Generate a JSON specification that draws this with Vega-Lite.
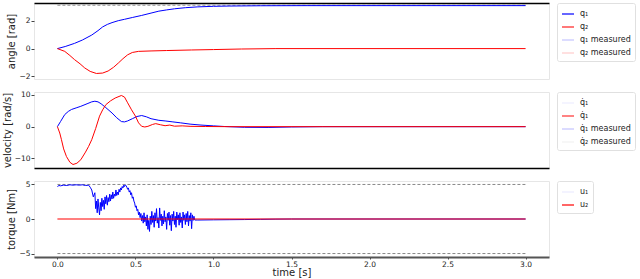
{
  "$schema": "https://vega.github.io/schema/vega-lite/v6.json",
  "padding": {"left": 1, "top": 2, "right": 1, "bottom": 0},
  "spacing": 13,
  "bounds": "flush",
  "datasets": {
    "d": [
      {"panel":"a","series":"q1","time":0,"value":0},{"panel":"a","series":"q1","time":0.05,"value":0.15},{"panel":"a","series":"q1","time":0.11,"value":0.38},{"panel":"a","series":"q1","time":0.16,"value":0.62},{"panel":"a","series":"q1","time":0.22,"value":0.98},{"panel":"a","series":"q1","time":0.26,"value":1.3},{"panel":"a","series":"q1","time":0.29,"value":1.57},{"panel":"a","series":"q1","time":0.32,"value":1.75},{"panel":"a","series":"q1","time":0.35,"value":1.88},{"panel":"a","series":"q1","time":0.39,"value":2.02},{"panel":"a","series":"q1","time":0.43,"value":2.12},{"panel":"a","series":"q1","time":0.48,"value":2.25},{"panel":"a","series":"q1","time":0.54,"value":2.4},{"panel":"a","series":"q1","time":0.6,"value":2.57},{"panel":"a","series":"q1","time":0.65,"value":2.71},{"panel":"a","series":"q1","time":0.7,"value":2.8},{"panel":"a","series":"q1","time":0.75,"value":2.88},{"panel":"a","series":"q1","time":0.82,"value":2.96},{"panel":"a","series":"q1","time":0.9,"value":3.02},{"panel":"a","series":"q1","time":1.0,"value":3.06},{"panel":"a","series":"q1","time":1.1,"value":3.08},{"panel":"a","series":"q1","time":1.3,"value":3.1},{"panel":"a","series":"q1","time":1.6,"value":3.11},{"panel":"a","series":"q1","time":3.0,"value":3.11},
      {"panel":"a","series":"q2","time":0,"value":0},{"panel":"a","series":"q2","time":0.047,"value":-0.2},{"panel":"a","series":"q2","time":0.08,"value":-0.5},{"panel":"a","series":"q2","time":0.11,"value":-0.8},{"panel":"a","series":"q2","time":0.145,"value":-1.1},{"panel":"a","series":"q2","time":0.175,"value":-1.4},{"panel":"a","series":"q2","time":0.21,"value":-1.65},{"panel":"a","series":"q2","time":0.25,"value":-1.8},{"panel":"a","series":"q2","time":0.29,"value":-1.77},{"panel":"a","series":"q2","time":0.325,"value":-1.62},{"panel":"a","series":"q2","time":0.36,"value":-1.35},{"panel":"a","series":"q2","time":0.39,"value":-1.05},{"panel":"a","series":"q2","time":0.42,"value":-0.73},{"panel":"a","series":"q2","time":0.45,"value":-0.45},{"panel":"a","series":"q2","time":0.48,"value":-0.28},{"panel":"a","series":"q2","time":0.52,"value":-0.2},{"panel":"a","series":"q2","time":0.6,"value":-0.17},{"panel":"a","series":"q2","time":0.7,"value":-0.14},{"panel":"a","series":"q2","time":0.86,"value":-0.1},{"panel":"a","series":"q2","time":1.0,"value":-0.07},{"panel":"a","series":"q2","time":1.18,"value":-0.03},{"panel":"a","series":"q2","time":1.4,"value":0},{"panel":"a","series":"q2","time":3.0,"value":0},
      {"panel":"a","series":"lim","time":0,"value":3.1416},{"panel":"a","series":"lim","time":3.0,"value":3.1416},
      {"panel":"v","series":"q1","time":0,"value":0},{"panel":"v","series":"q1","time":0.02,"value":1.6},{"panel":"v","series":"q1","time":0.047,"value":3.8},{"panel":"v","series":"q1","time":0.07,"value":4.8},{"panel":"v","series":"q1","time":0.09,"value":5.4},{"panel":"v","series":"q1","time":0.12,"value":5.9},{"panel":"v","series":"q1","time":0.15,"value":6.4},{"panel":"v","series":"q1","time":0.19,"value":7.2},{"panel":"v","series":"q1","time":0.22,"value":7.8},{"panel":"v","series":"q1","time":0.24,"value":8.0},{"panel":"v","series":"q1","time":0.26,"value":7.8},{"panel":"v","series":"q1","time":0.28,"value":7.2},{"panel":"v","series":"q1","time":0.31,"value":6.0},{"panel":"v","series":"q1","time":0.35,"value":4.3},{"panel":"v","series":"q1","time":0.38,"value":2.8},{"panel":"v","series":"q1","time":0.41,"value":1.6},{"panel":"v","series":"q1","time":0.43,"value":1.5},{"panel":"v","series":"q1","time":0.45,"value":1.8},{"panel":"v","series":"q1","time":0.48,"value":2.5},{"panel":"v","series":"q1","time":0.51,"value":3.2},{"panel":"v","series":"q1","time":0.54,"value":3.5},{"panel":"v","series":"q1","time":0.57,"value":3.1},{"panel":"v","series":"q1","time":0.6,"value":2.5},{"panel":"v","series":"q1","time":0.65,"value":2.0},{"panel":"v","series":"q1","time":0.69,"value":1.8},{"panel":"v","series":"q1","time":0.74,"value":1.5},{"panel":"v","series":"q1","time":0.79,"value":1.2},{"panel":"v","series":"q1","time":0.85,"value":0.8},{"panel":"v","series":"q1","time":0.92,"value":0.5},{"panel":"v","series":"q1","time":1.0,"value":0.25},{"panel":"v","series":"q1","time":1.07,"value":0.05},{"panel":"v","series":"q1","time":1.2,"value":-0.2},{"panel":"v","series":"q1","time":1.35,"value":-0.25},{"panel":"v","series":"q1","time":1.5,"value":-0.1},{"panel":"v","series":"q1","time":1.7,"value":0},{"panel":"v","series":"q1","time":3.0,"value":0},
      {"panel":"v","series":"q2","time":0,"value":0},{"panel":"v","series":"q2","time":0.015,"value":-2.0},{"panel":"v","series":"q2","time":0.026,"value":-4.1},{"panel":"v","series":"q2","time":0.04,"value":-7.0},{"panel":"v","series":"q2","time":0.058,"value":-9.4},{"panel":"v","series":"q2","time":0.08,"value":-11.2},{"panel":"v","series":"q2","time":0.1,"value":-11.9},{"panel":"v","series":"q2","time":0.125,"value":-11.5},{"panel":"v","series":"q2","time":0.15,"value":-10.4},{"panel":"v","series":"q2","time":0.18,"value":-8.0},{"panel":"v","series":"q2","time":0.2,"value":-6.2},{"panel":"v","series":"q2","time":0.22,"value":-4.1},{"panel":"v","series":"q2","time":0.245,"value":-0.6},{"panel":"v","series":"q2","time":0.27,"value":3.3},{"panel":"v","series":"q2","time":0.29,"value":5.3},{"panel":"v","series":"q2","time":0.31,"value":6.9},{"panel":"v","series":"q2","time":0.34,"value":8.1},{"panel":"v","series":"q2","time":0.37,"value":9.0},{"panel":"v","series":"q2","time":0.41,"value":9.8},{"panel":"v","series":"q2","time":0.43,"value":9.3},{"panel":"v","series":"q2","time":0.45,"value":7.5},{"panel":"v","series":"q2","time":0.475,"value":5.3},{"panel":"v","series":"q2","time":0.5,"value":3.3},{"panel":"v","series":"q2","time":0.52,"value":1.2},{"panel":"v","series":"q2","time":0.54,"value":0.1},{"panel":"v","series":"q2","time":0.56,"value":-0.1},{"panel":"v","series":"q2","time":0.58,"value":0.1},{"panel":"v","series":"q2","time":0.61,"value":0.7},{"panel":"v","series":"q2","time":0.63,"value":0.95},{"panel":"v","series":"q2","time":0.66,"value":0.6},{"panel":"v","series":"q2","time":0.69,"value":0.3},{"panel":"v","series":"q2","time":0.72,"value":0.5},{"panel":"v","series":"q2","time":0.75,"value":0.15},{"panel":"v","series":"q2","time":0.8,"value":0.25},{"panel":"v","series":"q2","time":0.85,"value":0.1},{"panel":"v","series":"q2","time":0.95,"value":0.05},{"panel":"v","series":"q2","time":1.1,"value":0},{"panel":"v","series":"q2","time":3.0,"value":0},
      {"panel":"u","series":"hi","time":0,"value":5},{"panel":"u","series":"hi","time":3.0,"value":5},
      {"panel":"u","series":"lo","time":0,"value":-5},{"panel":"u","series":"lo","time":3.0,"value":-5},
      {"panel":"u","series":"u2","time":0,"value":0},{"panel":"u","series":"u2","time":3.0,"value":0},
      {"panel":"u","series":"u1","time":0,"value":4.7},{"panel":"u","series":"u1","time":0.01,"value":4.85},{"panel":"u","series":"u1","time":0.02,"value":4.8},{"panel":"u","series":"u1","time":0.04,"value":4.9},{"panel":"u","series":"u1","time":0.06,"value":4.85},{"panel":"u","series":"u1","time":0.08,"value":4.95},{"panel":"u","series":"u1","time":0.1,"value":4.9},{"panel":"u","series":"u1","time":0.12,"value":4.95},{"panel":"u","series":"u1","time":0.14,"value":4.9},{"panel":"u","series":"u1","time":0.16,"value":4.95},{"panel":"u","series":"u1","time":0.18,"value":4.85},{"panel":"u","series":"u1","time":0.2,"value":4.9},{"panel":"u","series":"u1","time":0.21,"value":4.6},{"panel":"u","series":"u1","time":0.22,"value":4.2},{"panel":"u","series":"u1","time":0.23,"value":3.2},{"panel":"u","series":"u1","time":0.24,"value":3.8},{"panel":"u","series":"u1","time":0.245,"value":1.5},{"panel":"u","series":"u1","time":0.25,"value":2.6},{"panel":"u","series":"u1","time":0.255,"value":0.9},{"panel":"u","series":"u1","time":0.26,"value":2.9},{"panel":"u","series":"u1","time":0.265,"value":1.6},{"panel":"u","series":"u1","time":0.27,"value":0.6},{"panel":"u","series":"u1","time":0.275,"value":2.4},{"panel":"u","series":"u1","time":0.28,"value":1.2},{"panel":"u","series":"u1","time":0.285,"value":3.0},{"panel":"u","series":"u1","time":0.29,"value":1.8},{"panel":"u","series":"u1","time":0.295,"value":2.7},{"panel":"u","series":"u1","time":0.3,"value":1.4},{"panel":"u","series":"u1","time":0.305,"value":3.2},{"panel":"u","series":"u1","time":0.31,"value":2.2},{"panel":"u","series":"u1","time":0.315,"value":3.4},{"panel":"u","series":"u1","time":0.32,"value":2.0},{"panel":"u","series":"u1","time":0.325,"value":3.1},{"panel":"u","series":"u1","time":0.33,"value":2.5},{"panel":"u","series":"u1","time":0.335,"value":3.6},{"panel":"u","series":"u1","time":0.34,"value":2.6},{"panel":"u","series":"u1","time":0.345,"value":3.5},{"panel":"u","series":"u1","time":0.35,"value":2.9},{"panel":"u","series":"u1","time":0.355,"value":3.9},{"panel":"u","series":"u1","time":0.36,"value":3.0},{"panel":"u","series":"u1","time":0.365,"value":3.6},{"panel":"u","series":"u1","time":0.37,"value":3.3},{"panel":"u","series":"u1","time":0.375,"value":4.2},{"panel":"u","series":"u1","time":0.38,"value":3.4},{"panel":"u","series":"u1","time":0.385,"value":3.9},{"panel":"u","series":"u1","time":0.39,"value":3.5},{"panel":"u","series":"u1","time":0.395,"value":4.3},{"panel":"u","series":"u1","time":0.4,"value":3.9},{"panel":"u","series":"u1","time":0.405,"value":4.5},{"panel":"u","series":"u1","time":0.41,"value":4.2},{"panel":"u","series":"u1","time":0.415,"value":4.7},{"panel":"u","series":"u1","time":0.42,"value":4.5},{"panel":"u","series":"u1","time":0.425,"value":4.9},{"panel":"u","series":"u1","time":0.43,"value":4.7},{"panel":"u","series":"u1","time":0.435,"value":4.95},{"panel":"u","series":"u1","time":0.44,"value":4.8},{"panel":"u","series":"u1","time":0.445,"value":4.6},{"panel":"u","series":"u1","time":0.45,"value":4.3},{"panel":"u","series":"u1","time":0.455,"value":4.5},{"panel":"u","series":"u1","time":0.46,"value":3.9},{"panel":"u","series":"u1","time":0.465,"value":4.1},{"panel":"u","series":"u1","time":0.47,"value":3.5},{"panel":"u","series":"u1","time":0.475,"value":3.8},{"panel":"u","series":"u1","time":0.48,"value":3.0},{"panel":"u","series":"u1","time":0.485,"value":3.2},{"panel":"u","series":"u1","time":0.49,"value":2.6},{"panel":"u","series":"u1","time":0.495,"value":2.3},{"panel":"u","series":"u1","time":0.5,"value":1.7},{"panel":"u","series":"u1","time":0.505,"value":1.9},{"panel":"u","series":"u1","time":0.51,"value":1.2},{"panel":"u","series":"u1","time":0.515,"value":1.4},{"panel":"u","series":"u1","time":0.52,"value":0.6},{"panel":"u","series":"u1","time":0.525,"value":1.0},{"panel":"u","series":"u1","time":0.53,"value":0.2},{"panel":"u","series":"u1","time":0.535,"value":0.8},{"panel":"u","series":"u1","time":0.54,"value":-0.3},{"panel":"u","series":"u1","time":0.545,"value":0.5},{"panel":"u","series":"u1","time":0.55,"value":-0.6},{"panel":"u","series":"u1","time":0.555,"value":0.9},{"panel":"u","series":"u1","time":0.56,"value":-0.4},{"panel":"u","series":"u1","time":0.565,"value":0.3},{"panel":"u","series":"u1","time":0.57,"value":-1.0},{"panel":"u","series":"u1","time":0.575,"value":0.6},{"panel":"u","series":"u1","time":0.58,"value":-1.5},{"panel":"u","series":"u1","time":0.585,"value":-0.2},{"panel":"u","series":"u1","time":0.59,"value":-1.8},{"panel":"u","series":"u1","time":0.595,"value":0.4},{"panel":"u","series":"u1","time":0.6,"value":-0.8},{"panel":"u","series":"u1","time":0.605,"value":1.1},{"panel":"u","series":"u1","time":0.61,"value":-0.5},{"panel":"u","series":"u1","time":0.615,"value":0.5},{"panel":"u","series":"u1","time":0.62,"value":-1.2},{"panel":"u","series":"u1","time":0.625,"value":0.9},{"panel":"u","series":"u1","time":0.63,"value":-0.3},{"panel":"u","series":"u1","time":0.635,"value":1.5},{"panel":"u","series":"u1","time":0.64,"value":-0.6},{"panel":"u","series":"u1","time":0.645,"value":0.2},{"panel":"u","series":"u1","time":0.65,"value":-1.3},{"panel":"u","series":"u1","time":0.655,"value":1.6},{"panel":"u","series":"u1","time":0.66,"value":-0.2},{"panel":"u","series":"u1","time":0.665,"value":0.7},{"panel":"u","series":"u1","time":0.67,"value":-1.0},{"panel":"u","series":"u1","time":0.675,"value":0.4},{"panel":"u","series":"u1","time":0.68,"value":-0.7},{"panel":"u","series":"u1","time":0.685,"value":1.2},{"panel":"u","series":"u1","time":0.69,"value":-0.4},{"panel":"u","series":"u1","time":0.695,"value":0.3},{"panel":"u","series":"u1","time":0.7,"value":-1.5},{"panel":"u","series":"u1","time":0.705,"value":0.8},{"panel":"u","series":"u1","time":0.71,"value":-0.2},{"panel":"u","series":"u1","time":0.715,"value":1.0},{"panel":"u","series":"u1","time":0.72,"value":-0.9},{"panel":"u","series":"u1","time":0.725,"value":0.5},{"panel":"u","series":"u1","time":0.73,"value":-1.7},{"panel":"u","series":"u1","time":0.735,"value":0.7},{"panel":"u","series":"u1","time":0.74,"value":-0.3},{"panel":"u","series":"u1","time":0.745,"value":1.1},{"panel":"u","series":"u1","time":0.75,"value":-0.8},{"panel":"u","series":"u1","time":0.755,"value":0.4},{"panel":"u","series":"u1","time":0.76,"value":-1.2},{"panel":"u","series":"u1","time":0.765,"value":1.0},{"panel":"u","series":"u1","time":0.77,"value":-0.1},{"panel":"u","series":"u1","time":0.775,"value":0.6},{"panel":"u","series":"u1","time":0.78,"value":-0.9},{"panel":"u","series":"u1","time":0.785,"value":0.9},{"panel":"u","series":"u1","time":0.79,"value":-0.5},{"panel":"u","series":"u1","time":0.795,"value":0.3},{"panel":"u","series":"u1","time":0.8,"value":-1.3},{"panel":"u","series":"u1","time":0.805,"value":1.0},{"panel":"u","series":"u1","time":0.81,"value":-0.2},{"panel":"u","series":"u1","time":0.815,"value":0.6},{"panel":"u","series":"u1","time":0.82,"value":-0.8},{"panel":"u","series":"u1","time":0.825,"value":0.8},{"panel":"u","series":"u1","time":0.83,"value":-0.4},{"panel":"u","series":"u1","time":0.835,"value":1.1},{"panel":"u","series":"u1","time":0.84,"value":-1.0},{"panel":"u","series":"u1","time":0.845,"value":0.5},{"panel":"u","series":"u1","time":0.85,"value":-0.3},{"panel":"u","series":"u1","time":0.855,"value":0.9},{"panel":"u","series":"u1","time":0.86,"value":-1.4},{"panel":"u","series":"u1","time":0.865,"value":0.6},{"panel":"u","series":"u1","time":0.87,"value":-0.2},{"panel":"u","series":"u1","time":0.875,"value":0.4},{"panel":"u","series":"u1","time":0.88,"value":-0.15},{"panel":"u","series":"u1","time":0.9,"value":-0.15},{"panel":"u","series":"u1","time":1.0,"value":-0.12},{"panel":"u","series":"u1","time":1.1,"value":-0.1},{"panel":"u","series":"u1","time":1.2,"value":-0.08},{"panel":"u","series":"u1","time":1.3,"value":-0.05},{"panel":"u","series":"u1","time":1.4,"value":-0.02},{"panel":"u","series":"u1","time":1.5,"value":0},{"panel":"u","series":"u1","time":3.0,"value":0}
    ],
    "leg": [
      {"panel":"a","key":"k1","time":0,"value":0},{"panel":"a","key":"k2","time":0,"value":0},{"panel":"a","key":"k3","time":0,"value":0},{"panel":"a","key":"k4","time":0,"value":0},
      {"panel":"v","key":"k1","time":0,"value":0},{"panel":"v","key":"k2","time":0,"value":0},{"panel":"v","key":"k3","time":0,"value":0},{"panel":"v","key":"k4","time":0,"value":0},
      {"panel":"u","key":"k1","time":0,"value":0},{"panel":"u","key":"k2","time":0,"value":0}
    ]
  },
  "resolve": {"scale": {"color": "independent", "x": "independent", "y": "independent"}, "legend": {"color": "independent"}},
  "vconcat": [
    {
      "width": 515, "height": 76,
      "layer": [
        {
          "data": {"name": "leg"},
          "transform": [{"filter": "datum.panel == 'a'"}],
          "mark": {"type": "line", "strokeWidth": 1.2},
          "encoding": {
            "x": {"field": "time", "type": "quantitative", "scale": {"domain": [-0.15, 3.15], "nice": false, "zero": false}, "axis": {"orient": "top", "labels": false, "ticks": false, "title": null, "domain": true, "domainColor": "#000000", "domainWidth": 1.5}},
            "y": {"field": "value", "type": "quantitative", "scale": {"domain": [-2.2, 3.3], "nice": false, "zero": false}, "axis": {"tickCount": 3, "title": "angle [rad]"}},
            "color": {"field": "key", "type": "nominal", "scale": {"domain": ["k1", "k2", "k3", "k4"], "range": ["#0000ff", "#ff2020", "#c4c4ff", "#ffcccc"]}, "legend": {"labelExpr": "datum.label == 'k1' ? 'q₁' : datum.label == 'k2' ? 'q₂' : datum.label == 'k3' ? 'q₁ measured' : 'q₂ measured'"}}
          }
        },
        {
          "data": {"name": "d"},
          "transform": [{"filter": "datum.panel == 'a' && datum.series == 'lim'"}],
          "mark": {"type": "line", "color": "#888888", "strokeWidth": 1, "strokeDash": [3, 2]},
          "encoding": {"x": {"field": "time", "type": "quantitative"}, "y": {"field": "value", "type": "quantitative"}}
        },
        {
          "data": {"name": "d"},
          "transform": [{"filter": "datum.panel == 'a' && datum.series == 'q1'"}],
          "mark": {"type": "line", "color": "#0000ff", "strokeWidth": 1},
          "encoding": {"x": {"field": "time", "type": "quantitative"}, "y": {"field": "value", "type": "quantitative"}}
        },
        {
          "data": {"name": "d"},
          "transform": [{"filter": "datum.panel == 'a' && datum.series == 'q2'"}],
          "mark": {"type": "line", "color": "#ff0000", "strokeWidth": 1},
          "encoding": {"x": {"field": "time", "type": "quantitative"}, "y": {"field": "value", "type": "quantitative"}}
        }
      ]
    },
    {
      "width": 515, "height": 76,
      "layer": [
        {
          "data": {"name": "leg"},
          "transform": [{"filter": "datum.panel == 'v'"}],
          "mark": {"type": "line", "strokeWidth": 1.2},
          "encoding": {
            "x": {"field": "time", "type": "quantitative", "scale": {"domain": [-0.15, 3.15], "nice": false, "zero": false}, "axis": {"orient": "bottom", "labels": false, "ticks": false, "title": null, "domain": true, "domainColor": "#000000", "domainWidth": 1.5}},
            "y": {"field": "value", "type": "quantitative", "scale": {"domain": [-13, 10.9], "nice": false, "zero": false}, "axis": {"tickCount": 3, "title": "velocity [rad/s]"}},
            "color": {"field": "key", "type": "nominal", "scale": {"domain": ["k1", "k2", "k3", "k4"], "range": ["#ececff", "#ff3030", "#c4c4ff", "#f2f2f2"]}, "legend": {"labelExpr": "datum.label == 'k1' ? 'q̇₁' : datum.label == 'k2' ? 'q̇₁' : datum.label == 'k3' ? 'q̇₁ measured' : 'q̇₂ measured'"}}
          }
        },
        {
          "data": {"name": "d"},
          "transform": [{"filter": "datum.panel == 'v' && datum.series == 'q1'"}],
          "mark": {"type": "line", "color": "#0000ff", "strokeWidth": 1},
          "encoding": {"x": {"field": "time", "type": "quantitative"}, "y": {"field": "value", "type": "quantitative"}}
        },
        {
          "data": {"name": "d"},
          "transform": [{"filter": "datum.panel == 'v' && datum.series == 'q2'"}],
          "mark": {"type": "line", "color": "#ff0000", "strokeWidth": 1},
          "encoding": {"x": {"field": "time", "type": "quantitative"}, "y": {"field": "value", "type": "quantitative"}}
        }
      ]
    },
    {
      "width": 515, "height": 76,
      "layer": [
        {
          "data": {"name": "leg"},
          "transform": [{"filter": "datum.panel == 'u'"}],
          "mark": {"type": "line", "strokeWidth": 1.2},
          "encoding": {
            "x": {"field": "time", "type": "quantitative", "scale": {"domain": [-0.15, 3.15], "nice": false, "zero": false}, "axis": {"orient": "bottom", "values": [0, 0.5, 1, 1.5, 2, 2.5, 3], "format": ".1f", "title": "time [s]", "titleFontSize": 10, "domain": true, "domainColor": "#555555", "domainWidth": 2, "tickSize": 2, "labelPadding": 1, "titlePadding": 0}},
            "y": {"field": "value", "type": "quantitative", "scale": {"domain": [-5.5, 5.5], "nice": false, "zero": false}, "axis": {"tickCount": 3, "title": "torque [Nm]"}},
            "color": {"field": "key", "type": "nominal", "scale": {"domain": ["k1", "k2"], "range": ["#ececff", "#ff0000"]}, "legend": {"labelExpr": "datum.label == 'k1' ? 'u₁' : 'u₂'"}}
          }
        },
        {
          "data": {"name": "d"},
          "transform": [{"filter": "datum.panel == 'u' && (datum.series == 'hi' || datum.series == 'lo')"}],
          "mark": {"type": "line", "color": "#888888", "strokeWidth": 1, "strokeDash": [3, 2]},
          "encoding": {"x": {"field": "time", "type": "quantitative"}, "y": {"field": "value", "type": "quantitative"}, "detail": {"field": "series"}}
        },
        {
          "data": {"name": "d"},
          "transform": [{"filter": "datum.panel == 'u' && datum.series == 'u1'"}],
          "mark": {"type": "line", "color": "#0000ff", "strokeWidth": 1},
          "encoding": {"x": {"field": "time", "type": "quantitative"}, "y": {"field": "value", "type": "quantitative"}}
        },
        {
          "data": {"name": "d"},
          "transform": [{"filter": "datum.panel == 'u' && datum.series == 'u2'"}],
          "mark": {"type": "line", "color": "#ff0000", "strokeWidth": 1.2},
          "encoding": {"x": {"field": "time", "type": "quantitative"}, "y": {"field": "value", "type": "quantitative"}}
        }
      ]
    }
  ],
  "config": {
    "font": "DejaVu Sans",
    "view": {"stroke": "#e6e6e6"},
    "axis": {"grid": false, "domain": false, "labelOverlap": false, "labelFontSize": 7.5, "labelColor": "#222222", "titleFontSize": 10, "titleFontWeight": "normal", "titleColor": "#222222", "tickColor": "#444444", "tickSize": 3, "labelPadding": 1, "titlePadding": 2},
    "legend": {"orient": "right", "offset": 8, "padding": 4, "strokeColor": "#e0e0e0", "cornerRadius": 2, "fillColor": "#ffffff", "title": null, "labelFontSize": 8, "labelColor": "#222222", "symbolType": "stroke", "symbolSize": 144, "symbolStrokeWidth": 1.2, "rowPadding": 2, "labelOffset": 5}
  }
}
